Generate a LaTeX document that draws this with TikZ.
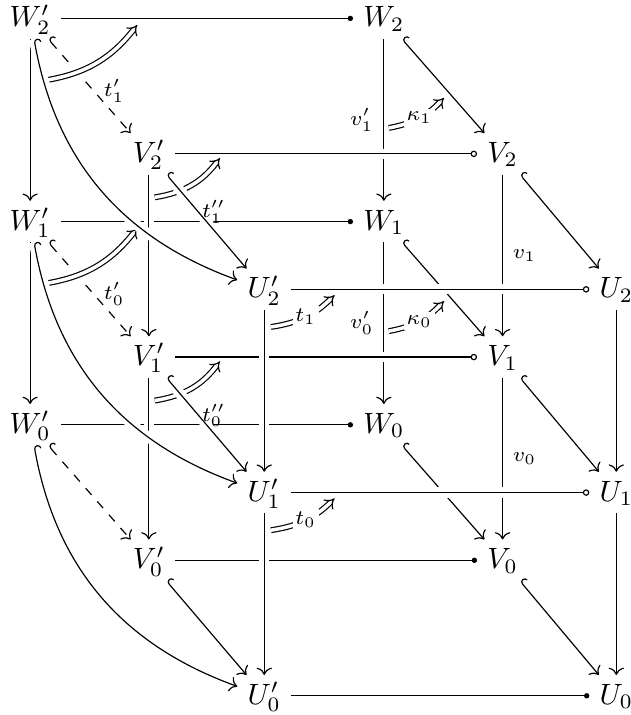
\documentclass[tikz,border=0pt]{standalone}
\usepackage{amsmath, amssymb}
\usepackage{tikz}
\usetikzlibrary{arrows.meta}

\begin{document}
\begin{tikzpicture}[
  obj/.style={text height=1.5ex, text depth=0.15ex, inner sep=0.333em},
  arrow/.style={-{Computer Modern Rightarrow}},
  hookarrow/.style={{Hooks[right]}-{Computer Modern Rightarrow}},
  dotarrow/.style={-{Circle[length=1.8pt]}},
  circarrow/.style={-{Circle[open, length=2.2pt]}},
  cell/.style={double, double distance=1.2pt, -{Implies}},
  over/.style={preaction={draw=white, -, line width=3.5pt}},
  edgelabel/.style={font=\scriptsize},
  celllabel/.style={font=\scriptsize, fill=white, inner sep=1pt}
]
\useasboundingbox (-0.36,0.22) rectangle (7.18,-8.33);

% Nodes (primed face left, plain face right)
\node[obj] (Wp2) at (0,0) {$W'_2$};
\node[obj] (W2) at (4.23,0) {$W_2$};
\node[obj] (Vp2) at (1.42,-1.62) {$V'_2$};
\node[obj] (V2) at (5.65,-1.62) {$V_2$};
\node[obj] (Wp1) at (0,-2.43) {$W'_1$};
\node[obj] (W1) at (4.23,-2.43) {$W_1$};
\node[obj] (Up2) at (2.80,-3.24) {$U'_2$};
\node[obj] (U2) at (7.01,-3.24) {$U_2$};
\node[obj] (Vp1) at (1.42,-4.05) {$V'_1$};
\node[obj] (V1) at (5.65,-4.05) {$V_1$};
\node[obj] (Wp0) at (0,-4.86) {$W'_0$};
\node[obj] (W0) at (4.23,-4.86) {$W_0$};
\node[obj] (Up1) at (2.80,-5.67) {$U'_1$};
\node[obj] (U1) at (7.01,-5.67) {$U_1$};
\node[obj] (Vp0) at (1.42,-6.48) {$V'_0$};
\node[obj] (V0) at (5.65,-6.48) {$V_0$};
\node[obj] (Up0) at (2.80,-8.10) {$U'_0$};
\node[obj] (U0) at (7.01,-8.10) {$U_0$};

% Ends of the 2-cells
\coordinate (cw2a) at (0.12,-0.75);  \coordinate (cw2b) at (1.28,-0.08);
\coordinate (cw1a) at (0.12,-3.18);  \coordinate (cw1b) at (1.28,-2.51);
\coordinate (cv2a) at (1.49,-2.14);  \coordinate (cv2b) at (2.27,-1.67);
\coordinate (cv1a) at (1.49,-4.57);  \coordinate (cv1b) at (2.27,-4.10);
\coordinate (ct1a) at (2.88,-3.69);  \coordinate (ct1b) at (3.64,-3.31);
\coordinate (ct0a) at (2.88,-6.12);  \coordinate (ct0b) at (3.64,-5.74);
\coordinate (ck1a) at (4.29,-1.31);  \coordinate (ck1b) at (4.95,-0.95);
\coordinate (ck0a) at (4.29,-3.74);  \coordinate (ck0b) at (4.95,-3.38);

% Back arrows
\draw[arrow] (W2) -- node[left, edgelabel] {$v'_1$} (W1);
\draw[arrow] (W1) -- node[left, edgelabel] {$v'_0$} (W0);
\draw[arrow] (V2) -- node[right, edgelabel] {$v_1$} (V1);
\draw[arrow] (V1) -- node[right, edgelabel] {$v_0$} (V0);
\draw[arrow] (U2) -- (U1);
\draw[arrow] (U1) -- (U0);
\draw[hookarrow] (W2) -- (V2);
\draw[hookarrow] (W1) -- (V1);
\draw[hookarrow] (W0) -- (V0);
\draw[hookarrow] (V2) -- (U2);
\draw[hookarrow] (V1) -- (U1);
\draw[hookarrow] (V0) -- (U0);
\draw[arrow] (Wp2) -- (Wp1);
\draw[arrow] (Wp1) -- (Wp0);
\draw[dotarrow] (Wp2) -- (W2);
\draw[dotarrow] (Wp1) -- (W1);
\draw[dotarrow] (Wp0) -- (W0);

% Front horizontals
\draw[circarrow, over] (Vp2) -- (V2);
\draw[circarrow, over] (Up2) -- (U2);
\draw[circarrow, over] (Vp1) -- (V1);
\draw[circarrow, over] (Up1) -- (U1);
\draw[dotarrow, over] (Vp0) -- (V0);
\draw[dotarrow] (Up0) -- (U0);

% Dashed maps
\draw[hookarrow, dashed] (Wp2) -- node[pos=0.55, right, edgelabel] {$t'_1$} (Vp2);
\draw[hookarrow, dashed] (Wp1) -- node[pos=0.55, right, edgelabel] {$t'_0$} (Vp1);
\draw[hookarrow, dashed] (Wp0) -- (Vp0);
\draw[cell, over] (cw2a) to[bend right=22] (cw2b);
\draw[cell, over] (cw1a) to[bend right=22] (cw1b);

% Front verticals and diagonals
\draw[arrow, over] (Vp2) -- (Vp1);
\draw[arrow, over] (Vp1) -- (Vp0);
\draw[cell, over] (cv2a) to[bend right=22] (cv2b);
\draw[cell, over] (cv1a) to[bend right=22] (cv1b);
\draw[hookarrow, over] (Vp2) -- node[pos=0.4, right, edgelabel, inner sep=1pt] {$t''_1$} (Up2);
\draw[hookarrow, over] (Vp1) -- node[pos=0.4, right, edgelabel, inner sep=1pt] {$t''_0$} (Up1);
\draw[hookarrow, over] (Vp0) -- (Up0);
\draw[hookarrow, over] (Wp2) to[bend right=30] (Up2);
\draw[hookarrow, over] (Wp1) to[bend right=30] (Up1);
\draw[hookarrow, over] (Wp0) to[bend right=30] (Up0);
\draw[arrow, over] (Up2) -- (Up1);
\draw[arrow, over] (Up1) -- (Up0);

% Labelled 2-cells
\draw[cell] (ct1a) to[bend right=18] node[celllabel] {$t_1$} (ct1b);
\draw[cell] (ct0a) to[bend right=18] node[celllabel] {$t_0$} (ct0b);
\draw[cell] (ck1a) to[bend right=18] node[celllabel] {$\kappa_1$} (ck1b);
\draw[cell] (ck0a) to[bend right=18] node[celllabel] {$\kappa_0$} (ck0b);

\end{tikzpicture}
\end{document}
